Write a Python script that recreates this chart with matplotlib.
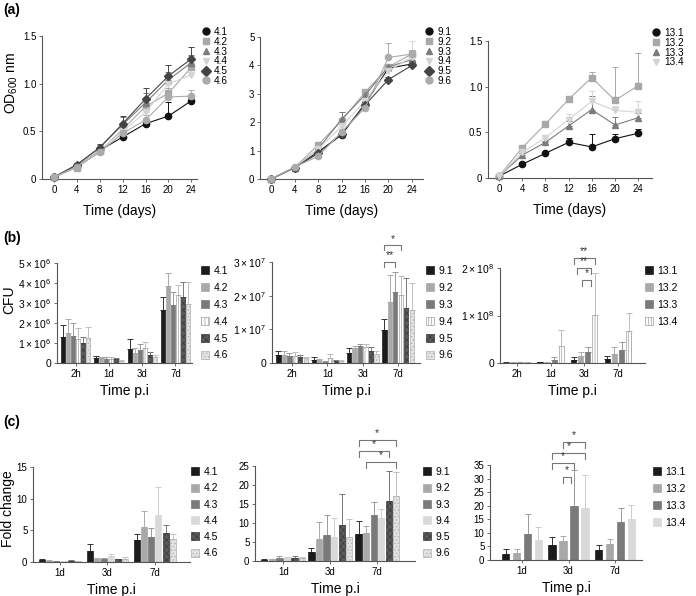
import numpy as np
import matplotlib.pyplot as plt
from matplotlib.lines import Line2D

plt.rcParams['font.family'] = ['Liberation Sans', 'DejaVu Sans']
plt.rcParams['mathtext.fontset'] = 'custom'
plt.rcParams['mathtext.rm'] = 'Liberation Sans'
plt.rcParams['hatch.linewidth'] = 0.5

W, H = 696, 596

# ---------------- data ----------------
days = [0, 4, 8, 12, 16, 20, 24]

od4_names = ['4.1', '4.2', '4.3', '4.4', '4.5', '4.6']
od4 = [[0.02, 0.13, 0.30, 0.44, 0.58, 0.66, 0.82],
       [0.02, 0.12, 0.29, 0.52, 0.76, 0.90, 1.17],
       [0.02, 0.15, 0.33, 0.57, 0.80, 1.04, 1.22],
       [0.02, 0.13, 0.30, 0.50, 0.70, 1.00, 1.09],
       [0.02, 0.15, 0.33, 0.58, 0.84, 1.08, 1.26],
       [0.02, 0.13, 0.28, 0.48, 0.62, 0.86, 0.87]]
od4_err = [[0.02, 0.02, 0.03, 0.03, 0.03, 0.15, 0.03],
           [0.02, 0.02, 0.03, 0.05, 0.05, 0.05, 0.12],
           [0.02, 0.02, 0.03, 0.08, 0.10, 0.08, 0.08],
           [0.02, 0.02, 0.03, 0.05, 0.05, 0.10, 0.29],
           [0.02, 0.02, 0.04, 0.08, 0.11, 0.12, 0.12],
           [0.02, 0.02, 0.03, 0.05, 0.05, 0.05, 0.06]]

od9_names = ['9.1', '9.2', '9.3', '9.4', '9.5', '9.6']
od9 = [[0.0, 0.40, 0.95, 1.55, 2.65, 3.90, 4.05],
       [0.0, 0.40, 1.20, 2.05, 3.05, 3.95, 4.40],
       [0.0, 0.40, 1.05, 2.10, 2.95, 3.95, 4.20],
       [0.0, 0.40, 1.05, 1.85, 2.75, 3.80, 4.30],
       [0.0, 0.40, 0.90, 1.60, 2.60, 3.50, 4.00],
       [0.0, 0.42, 0.80, 1.65, 2.50, 4.28, 4.40]]
od9_err = [[0.05, 0.05, 0.10, 0.10, 0.10, 0.10, 0.10],
           [0.05, 0.05, 0.10, 0.10, 0.10, 0.10, 0.15],
           [0.05, 0.05, 0.10, 0.25, 0.15, 0.10, 0.10],
           [0.05, 0.05, 0.10, 0.15, 0.15, 0.15, 0.55],
           [0.05, 0.05, 0.10, 0.10, 0.10, 0.10, 0.10],
           [0.05, 0.05, 0.10, 0.10, 0.10, 0.52, 0.15]]

od13_names = ['13.1', '13.2', '13.3', '13.4']
od13 = [[0.02, 0.15, 0.27, 0.39, 0.34, 0.43, 0.49],
        [0.02, 0.33, 0.59, 0.86, 1.10, 0.85, 1.01],
        [0.02, 0.25, 0.39, 0.57, 0.75, 0.58, 0.66],
        [0.02, 0.28, 0.44, 0.64, 0.84, 0.74, 0.72]]
od13_err = [[0.02, 0.02, 0.02, 0.05, 0.14, 0.05, 0.05],
            [0.02, 0.02, 0.02, 0.03, 0.06, 0.36, 0.36],
            [0.02, 0.02, 0.02, 0.05, 0.15, 0.09, 0.05],
            [0.02, 0.02, 0.03, 0.06, 0.11, 0.05, 0.12]]

cfu_cats = ['2h', '1d', '3d', '7d']
cfu4 = [[1.30, 0.27, 0.72, 2.65],   # x1e6
        [1.50, 0.25, 0.48, 3.85],
        [1.35, 0.20, 0.65, 2.88],
        [1.20, 0.20, 0.73, 3.40],
        [1.00, 0.20, 0.38, 3.32],
        [1.25, 0.12, 0.30, 2.97]]
cfu4_err = [[0.60, 0.08, 0.48, 0.67],
            [0.70, 0.05, 0.27, 0.63],
            [0.65, 0.08, 0.30, 0.69],
            [0.55, 0.08, 0.32, 0.52],
            [0.30, 0.05, 0.17, 0.73],
            [0.55, 0.04, 0.12, 1.08]]

cfu9 = [[0.25, 0.09, 0.30, 0.98],   # x1e7
        [0.25, 0.08, 0.45, 1.82],
        [0.22, 0.04, 0.50, 2.10],
        [0.22, 0.14, 0.47, 2.02],
        [0.17, 0.06, 0.35, 1.62],
        [0.15, 0.05, 0.27, 1.58]]
cfu9_err = [[0.10, 0.08, 0.15, 0.34],
            [0.10, 0.05, 0.05, 0.80],
            [0.08, 0.01, 0.07, 0.60],
            [0.11, 0.14, 0.08, 0.56],
            [0.08, 0.03, 0.13, 0.90],
            [0.03, 0.03, 0.10, 0.79]]

cfu13 = [[0.010, 0.015, 0.07, 0.09],   # x1e8
         [0.010, 0.010, 0.14, 0.19],
         [0.010, 0.060, 0.23, 0.28],
         [0.015, 0.360, 1.02, 0.67]]
cfu13_err = [[0.005, 0.005, 0.05, 0.06],
             [0.005, 0.003, 0.09, 0.14],
             [0.005, 0.060, 0.10, 0.17],
             [0.005, 0.340, 0.88, 0.38]]

fc_cats = ['1d', '3d', '7d']
fc4 = [[0.3, 1.7, 3.5],
       [0.2, 0.4, 5.5],
       [0.1, 0.5, 3.9],
       [0.1, 0.9, 7.4],
       [0.2, 0.4, 4.6],
       [0.1, 0.5, 3.6]]
fc4_err = [[0.15, 1.2, 0.9],
           [0.1, 0.2, 2.6],
           [0.05, 0.2, 1.4],
           [0.05, 0.4, 4.5],
           [0.1, 0.1, 1.3],
           [0.05, 0.3, 0.8]]

fc9 = [[0.3, 2.3, 7.0],
       [0.5, 5.8, 7.3],
       [0.8, 6.9, 12.2],
       [0.7, 6.3, 11.2],
       [0.8, 9.6, 15.8],
       [0.7, 6.2, 17.0]]
fc9_err = [[0.1, 1.2, 3.5],
           [0.1, 4.5, 1.9],
           [0.4, 5.2, 3.3],
           [0.3, 5.0, 2.6],
           [0.4, 8.0, 7.8],
           [0.4, 4.9, 6.5]]

fc13 = [[2.3, 5.6, 3.6],
        [2.7, 7.1, 5.9],
        [9.7, 19.9, 14.0],
        [7.4, 19.2, 15.2]]
fc13_err = [[1.8, 2.7, 2.0],
            [1.5, 1.9, 2.0],
            [7.3, 13.3, 5.0],
            [4.8, 12.0, 5.1]]

# significance brackets: (group, left bar, right bar, y, label)
sig_cfu9 = [(3, 0, 3, 3.5, '*'), (3, 0, 2, 3.0, '**')]
sig_cfu13 = [(2, 0, 3, 2.21, '**'), (2, 0.5, 2.4, 2.0, '**'), (2, 1.2, 2.4, 1.75, '*')]
sig_fc9 = [(2, 0, 5, 31.8, '*'), (2, 0, 4, 28.9, '*'), (2, 1, 5, 26.0, '*')]
sig_fc13 = [(1, 1, 3, 43.5, '*'), (1, 0, 3, 39.5, '*'), (1, 0, 2, 35.8, '*'), (1, 1, 1.7, 30.6, '*')]

# ---------------- styles ----------------
line_styles = [('#111111', 'o'), ('#a8a8a8', 's'), ('#7c7c7c', '^'),
               ('#d4d4d4', 'v'), ('#454545', 'D'), ('#ababab', 'o')]

bar_b = [dict(fc='#1c1c1c', ec='#1c1c1c', hatch=None, err='#333333'),
         dict(fc='#a9a9a9', ec='#a9a9a9', hatch=None, err='#aaaaaa'),
         dict(fc='#7a7a7a', ec='#7a7a7a', hatch=None, err='#999999'),
         dict(fc='white', ec='#a0a0a0', hatch='|||||', err='#bbbbbb'),
         dict(fc='#5a5a5a', ec='#3a3a3a', hatch='xxxxx', err='#777777'),
         dict(fc='#e2e2e2', ec='#b0b0b0', hatch='.....', err='#c0c0c0')]
bar_c = [dict(bar_b[0]), dict(bar_b[1]), dict(bar_b[2]),
         dict(fc='#d9d9d9', ec='#d9d9d9', hatch=None, err='#cccccc'),
         dict(bar_b[4]), dict(bar_b[5])]


def box(x0, x1, ytop, ybot):
    return [x0 / W, 1 - ybot / H, (x1 - x0) / W, (ybot - ytop) / H]


def style_axes(ax):
    for s in ['top', 'right']:
        ax.spines[s].set_visible(False)
    for s in ['left', 'bottom']:
        ax.spines[s].set_color('#555555')
        ax.spines[s].set_linewidth(0.8)
    ax.tick_params(labelsize=7, length=2, width=0.6, color='#555555', pad=2)


def put_legend(ax, handles, labels, px, py, fs, spacing, hl=0.8):
    ax.legend(handles, labels, loc='upper left', bbox_to_anchor=(px / W, 1 - py / H),
              bbox_transform=fig.transFigure, frameon=False, fontsize=fs,
              labelspacing=spacing, handlelength=hl, handleheight=hl,
              handletextpad=0.4, borderaxespad=0, borderpad=0)


def line_panel(ax, names, means, errs, ylim, yticks, yticklabels, xlim):
    handles = []
    for i, (name, m, e) in enumerate(zip(names, means, errs)):
        c, mk = line_styles[i]
        ax.errorbar(days, m, yerr=[np.zeros(len(e)), e], color=c, ecolor=c,
                    marker=mk, ms=4.5, lw=0.8, elinewidth=0.7, capsize=2.5,
                    capthick=0.7, clip_on=False, zorder=3)
        handles.append(Line2D([], [], color=c, marker=mk, ls='none', ms=5))
    ax.set_xlim(*xlim)
    ax.set_ylim(*ylim)
    ax.set_xticks(days)
    ax.set_yticks(yticks)
    ax.set_yticklabels(yticklabels)
    ax.set_xlabel('Time (days)', fontsize=10, labelpad=7)
    style_axes(ax)
    return handles


def bar_panel(ax, cats, means, errs, styles, step, width, scale, xlim, ylim, lp):
    x = np.arange(len(cats))
    n = len(means)
    handles = []
    for i, (m, e) in enumerate(zip(means, errs)):
        st = styles[i]
        pos = x + (i - (n - 1) / 2) * step
        vals = np.array(m) * scale
        b = ax.bar(pos, vals, width, color=st['fc'], edgecolor=st['ec'],
                   hatch=st['hatch'], linewidth=0.5, zorder=2)
        ax.errorbar(pos, vals, yerr=[np.zeros(len(e)), np.array(e) * scale],
                    fmt='none', ecolor=st['err'], elinewidth=0.7, capsize=2,
                    capthick=0.7, zorder=1)
        handles.append(b)
    ax.set_xticks(x)
    ax.set_xticklabels(cats)
    ax.set_xlim(*xlim)
    ax.set_ylim(*ylim)
    ax.set_xlabel('Time p.i', fontsize=10, labelpad=lp)
    style_axes(ax)
    return handles


def brackets(ax, sigs, n, step, scale, leg):
    for g, a, b, y, lab in sigs:
        xa = g + (a - (n - 1) / 2) * step
        xb = g + (b - (n - 1) / 2) * step
        y = y * scale
        ax.plot([xa, xa, xb, xb], [y - leg, y, y, y - leg], color='#777777',
                lw=0.8, clip_on=False)
        ax.text((xa + xb) / 2, y + leg * 0.3, lab, ha='center', va='bottom',
                fontsize=7.5, color='#333333')


def sci(vals, exp):
    return ['0' if v == 0 else r'$\mathregular{%d\times10^{%d}}$' % (v, exp) for v in vals]


fig = plt.figure(figsize=(W / 100, H / 100), dpi=100)

# ---------------- (a) ----------------
ax = fig.add_axes(box(42, 197, 36, 179))
h = line_panel(ax, od4_names, od4, od4_err, (0, 1.5), [0, 0.5, 1.0, 1.5],
               ['0', '0.5', '1.0', '1.5'], (-2.1, 25.0))
ax.set_ylabel(r'OD$_{600}$ nm', fontsize=10)
ax.yaxis.set_label_coords(-0.14, 0.67)
put_legend(ax, h, od4_names, 202, 27, 7.2, -0.02, 0.8)

ax = fig.add_axes(box(260, 423, 37, 179))
h = line_panel(ax, od9_names, od9, od9_err, (0, 5), [0, 1, 2, 3, 4, 5],
               ['0', '1', '2', '3', '4', '5'], (-1.9, 25.9))
put_legend(ax, h, od9_names, 425, 27, 7.2, -0.02, 0.8)

ax = fig.add_axes(box(488, 652, 41, 178))
h = line_panel(ax, od13_names, od13, od13_err, (0, 1.5), [0, 0.5, 1.0, 1.5],
               ['0', '0.5', '1.0', '1.5'], (-1.9, 26.4))
put_legend(ax, h, od13_names, 652, 28, 7.2, -0.02, 0.8)

# ---------------- (b) ----------------
ax = fig.add_axes(box(57, 192, 263, 363))
h = bar_panel(ax, cfu_cats, cfu4, cfu4_err, bar_b, 0.15, 0.12, 1e6,
              (-0.56, 3.5), (0, 5e6), 4)
ax.set_yticks([0, 1e6, 2e6, 3e6, 4e6, 5e6])
ax.set_yticklabels(sci([0, 1, 2, 3, 4, 5], 6), fontsize=7.5)
ax.set_ylabel('CFU', fontsize=10)
ax.yaxis.set_label_coords(-0.3, 0.63)
put_legend(ax, h, od4_names, 201, 266, 7.5, 0.66, 0.8)

ax = fig.add_axes(box(272, 420, 262, 363))
h = bar_panel(ax, cfu_cats, cfu9, cfu9_err, bar_b, 0.155, 0.12, 1e7,
              (-0.57, 3.62), (0, 3e7), 4)
ax.set_yticks([0, 1e7, 2e7, 3e7])
ax.set_yticklabels(sci([0, 1, 2, 3], 7), fontsize=7.5)
brackets(ax, sig_cfu9, 6, 0.155, 1e7, 0.15e7)
put_legend(ax, h, od9_names, 426, 266, 7.5, 0.66, 0.8)

ax = fig.add_axes(box(500, 645, 268, 363))
h = bar_panel(ax, cfu_cats, cfu13, cfu13_err, bar_b, 0.21, 0.15, 1e8,
              (-0.5, 3.8), (0, 2e8), 4)
ax.set_yticks([0, 1e8, 2e8])
ax.set_yticklabels(sci([0, 1, 2], 8), fontsize=7.5)
brackets(ax, sig_cfu13, 4, 0.21, 1e8, 0.12e8)
put_legend(ax, h, od13_names, 645, 266, 7.5, 0.66, 0.8)

# ---------------- (c) ----------------
ax = fig.add_axes(box(33, 190, 467, 562))
h = bar_panel(ax, fc_cats, fc4, fc4_err, bar_c, 0.15, 0.125, 1,
              (-0.57, 2.74), (0, 15), 4)
ax.set_yticks([0, 5, 10, 15])
ax.set_ylabel('Fold change', fontsize=10)
ax.yaxis.set_label_coords(-0.115, 0.56)
put_legend(ax, h, od4_names, 191, 467, 7.5, 0.6, 0.8)

ax = fig.add_axes(box(255, 415, 466, 561))
h = bar_panel(ax, fc_cats, fc9, fc9_err, bar_c, 0.16, 0.13, 1,
              (-0.6, 2.8), (0, 25), 4)
ax.set_yticks([0, 5, 10, 15, 20, 25])
brackets(ax, sig_fc9, 6, 0.16, 1, 1.5)
put_legend(ax, h, od9_names, 423, 467, 7.5, 0.6, 0.8)

ax = fig.add_axes(box(490, 642, 465, 560))
h = bar_panel(ax, fc_cats, fc13, fc13_err, bar_c, 0.235, 0.16, 1,
              (-0.69, 2.58), (0, 35), 4)
ax.set_yticks([0, 5, 10, 15, 20, 25, 30, 35])
brackets(ax, sig_fc13, 4, 0.235, 1, 2.2)
put_legend(ax, h, od13_names, 653, 467, 7.5, 0.66, 0.8)

# panel letters
fig.text(3 / W, 1 - 10 / H, '(a)', fontsize=10, fontweight='bold', va='center')
fig.text(3 / W, 1 - 238 / H, '(b)', fontsize=10, fontweight='bold', va='center')
fig.text(3 / W, 1 - 422 / H, '(c)', fontsize=10, fontweight='bold', va='center')

fig.savefig('out.png', dpi=100)
